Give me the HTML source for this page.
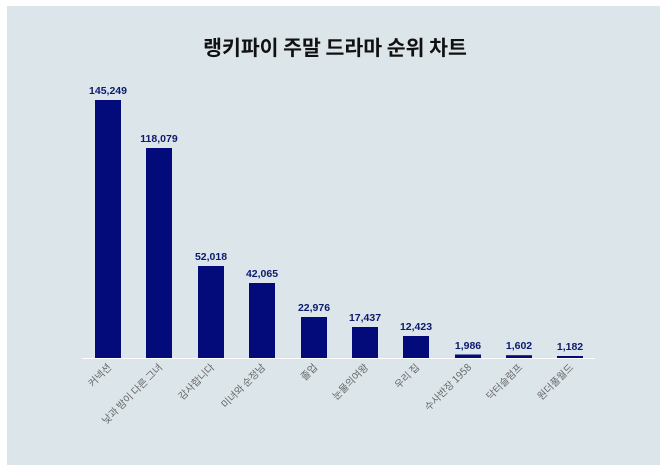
<!DOCTYPE html>
<html><head><meta charset="utf-8"><style>
html,body{margin:0;padding:0;background:#fff;}
svg{display:block;}
</style></head><body>
<svg width="670" height="473" xmlns="http://www.w3.org/2000/svg" font-family="'Liberation Sans','Noto Sans CJK KR',sans-serif">
<rect x="0" y="0" width="670" height="473" fill="#ffffff"/>
<rect x="7" y="6" width="653" height="459" fill="#dce5ea"/>
<text x="335" y="55" text-anchor="middle" font-size="20.5" font-weight="bold" fill="#111" font-family="'Noto Sans CJK KR',sans-serif">랭키파이 주말 드라마 순위 차트</text>
<line x1="82" y1="358.5" x2="595" y2="358.5" stroke="#ffffff" stroke-width="1"/>
<g fill="#030b7a">
<rect x="95" y="100" width="26" height="258"/>
<rect x="146" y="148" width="26" height="210"/>
<rect x="198" y="266" width="26" height="92"/>
<rect x="249" y="283" width="26" height="75"/>
<rect x="301" y="317" width="26" height="41"/>
<rect x="352" y="327" width="26" height="31"/>
<rect x="403" y="336" width="26" height="22"/>
<rect x="455" y="354.5" width="26" height="3.5"/>
<rect x="506" y="355.2" width="26" height="2.8"/>
<rect x="557" y="356" width="26" height="2"/>
</g>
<g font-size="10.5" font-weight="bold" fill="#0b1a6e" text-anchor="middle">
<text x="108" y="94">145,249</text>
<text x="159" y="142">118,079</text>
<text x="211" y="260">52,018</text>
<text x="262" y="277">42,065</text>
<text x="314" y="311">22,976</text>
<text x="365" y="321">17,437</text>
<text x="416" y="330">12,423</text>
<text x="468" y="349">1,986</text>
<text x="519" y="349">1,602</text>
<text x="570" y="350">1,182</text>
</g>
<g font-size="10" fill="#666" text-anchor="end" font-family="'Noto Sans CJK KR',sans-serif">
<text transform="translate(112,368) rotate(-45)">커넥션</text>
<text transform="translate(163,368) rotate(-45)">낮과 밤이 다른 그녀</text>
<text transform="translate(215,368) rotate(-45)">감사합니다</text>
<text transform="translate(266,368) rotate(-45)">미녀와 순정남</text>
<text transform="translate(318,368) rotate(-45)">졸업</text>
<text transform="translate(369,368) rotate(-45)">눈물의여왕</text>
<text transform="translate(420,368) rotate(-45)">우리 집</text>
<text transform="translate(472,368) rotate(-45)">수사반장 1958</text>
<text transform="translate(523,368) rotate(-45)">닥터슬럼프</text>
<text transform="translate(574,368) rotate(-45)">원더풀월드</text>
</g>
</svg>
</body></html>
